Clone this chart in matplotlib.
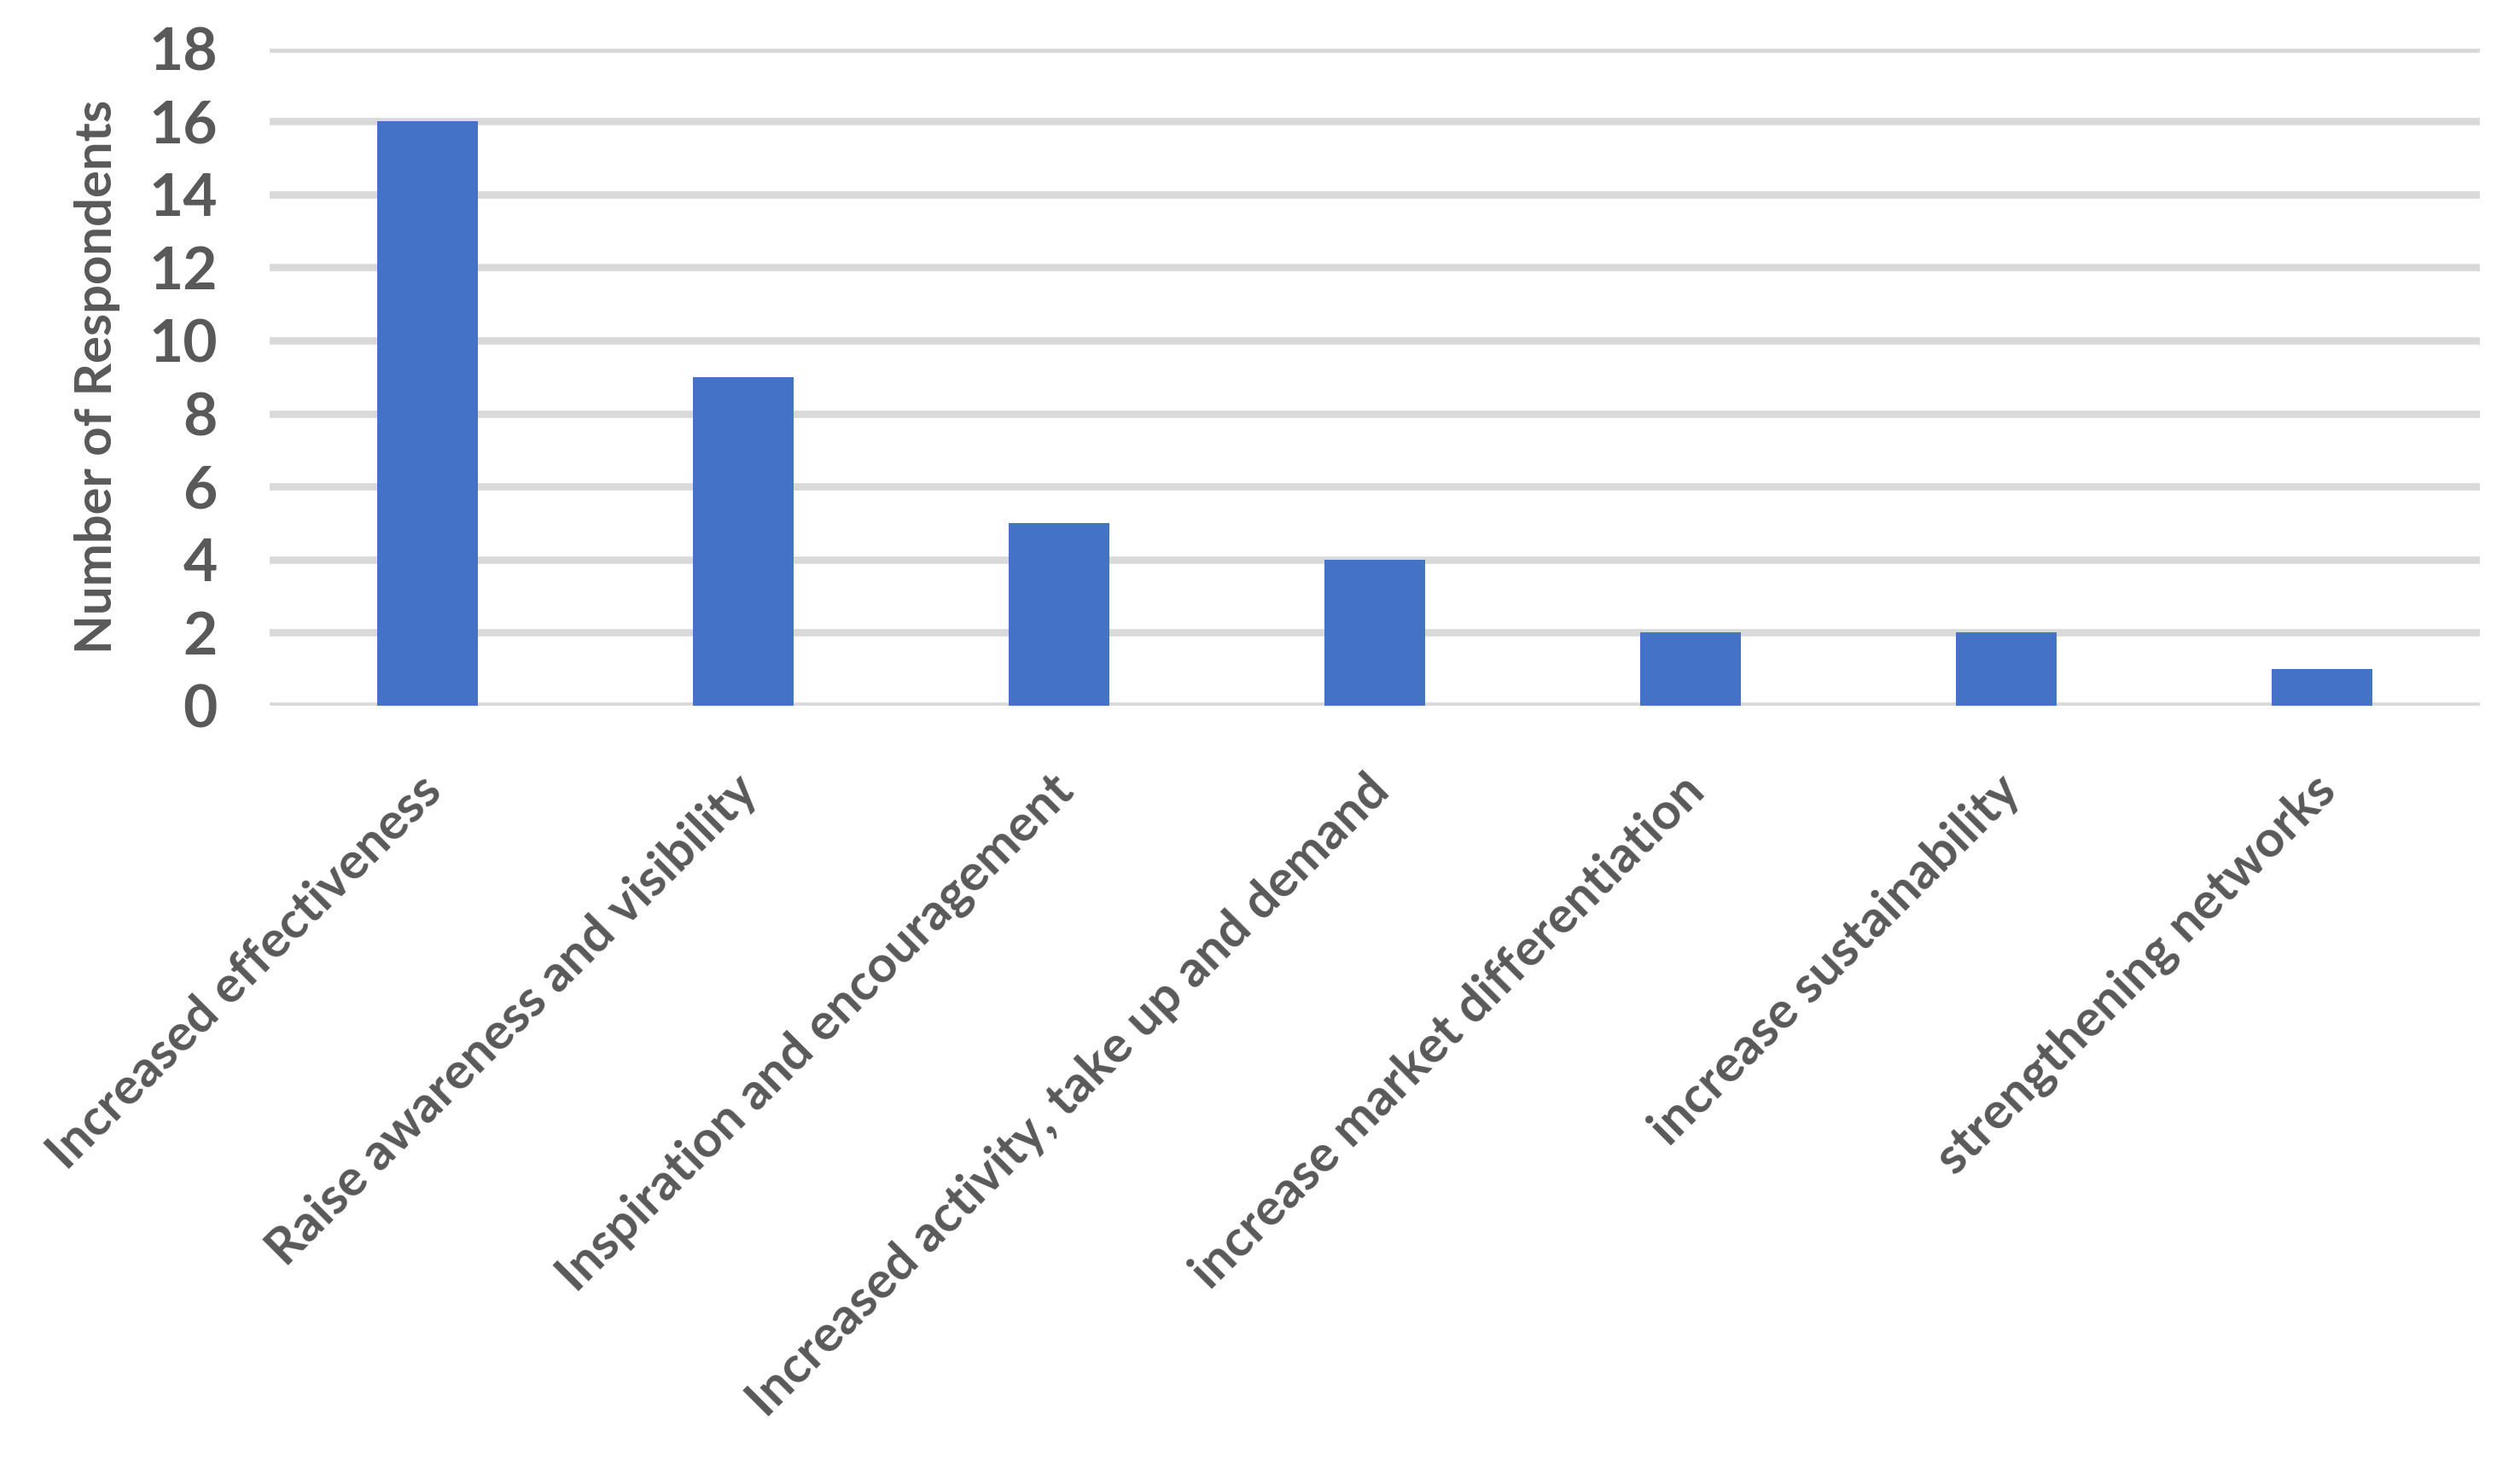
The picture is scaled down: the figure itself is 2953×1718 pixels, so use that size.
import matplotlib
matplotlib.use("Agg")
import matplotlib.pyplot as plt
import matplotlib.transforms as mtransforms

categories = [
    "Increased effectiveness",
    "Raise awareness and visibility",
    "Inspiration and encouragement",
    "Increased activity, take up and demand",
    "increase market differentiation",
    "increase sustainability",
    "strengthening networks",
]
values = [16, 9, 5, 4, 2, 2, 1]
yticks = [0, 2, 4, 6, 8, 10, 12, 14, 16, 18]
ylabel = "Number of Respondents"

TEXT = "#595959"
BAR = "#4472C4"
GRID = "#D9D9D9"
FONT = ["Lato", "DejaVu Sans"]

fig = plt.figure(figsize=(29.53, 17.18), dpi=100)
ax = fig.add_axes([0.107, 0.5186, 0.877, 0.4484])

x = list(range(len(categories)))
ax.bar(x, values, width=0.32, color=BAR, zorder=3)
ax.set_xlim(-0.5, len(categories) - 0.5)
ax.set_ylim(0, 18)
ax.set_yticks(yticks)
ax.set_yticklabels([str(t) for t in yticks], fontsize=50, fontweight="bold",
                   color=TEXT, family=FONT)
ax.yaxis.grid(True, color=GRID, linewidth=6.2, zorder=0)
ax.set_axisbelow(True)
ax.tick_params(axis="both", length=0)
ax.tick_params(axis="y", pad=44)
for s in ax.spines.values():
    s.set_visible(False)

ax.set_xticks(x)
ax.set_xticklabels(categories, rotation=45, ha="right", va="top",
                   rotation_mode="anchor", fontsize=43, color=TEXT,
                   family=FONT, fontweight="bold")
ax.tick_params(axis="x", pad=52)
offset = mtransforms.ScaledTranslation(-8 / 72, 0, fig.dpi_scale_trans)
for lab in ax.get_xticklabels():
    lab.set_transform(lab.get_transform() + offset)

ax.set_ylabel(ylabel, fontsize=43, color=TEXT, family=FONT,
              fontweight="bold", labelpad=24)

fig.savefig("out.png", dpi=100, facecolor="white")
